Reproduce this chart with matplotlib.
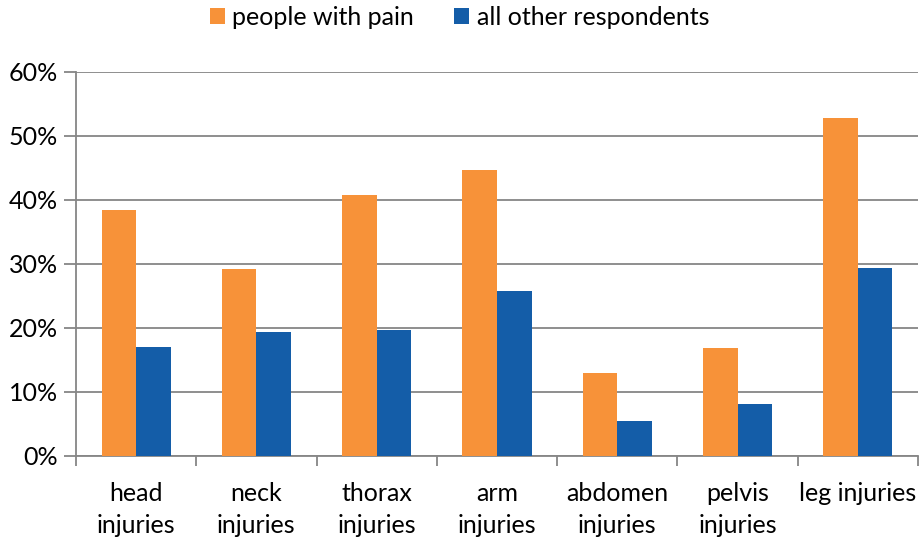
import matplotlib.pyplot as plt
import matplotlib.ticker as mticker
import numpy as np

categories = ["head\ninjuries", "neck\ninjuries", "thorax\ninjuries", "arm\ninjuries",
              "abdomen\ninjuries", "pelvis\ninjuries", "leg injuries"]
pain = [38.4, 29.2, 40.7, 44.6, 13.0, 16.8, 52.7]
others = [17.0, 19.3, 19.7, 25.8, 5.5, 8.1, 29.4]

orange = "#F79239"
blue = "#145DA8"
grey = "#868686"

plt.rcParams["font.family"] = ["Lato", "DejaVu Sans"]

fig = plt.figure(figsize=(9.19, 5.39), dpi=100)
ax = fig.add_axes([76 / 919, 1 - 455.7 / 539, (918 - 76) / 919, (455.7 - 71.7) / 539])

x = np.arange(len(categories))
w = 0.2875
ax.bar(x - w / 2, pain, w, color=orange, label="people with pain", zorder=3)
ax.bar(x + w / 2, others, w, color=blue, label="all other respondents", zorder=3)

ax.set_xlim(-0.5, len(categories) - 0.5)
ax.set_ylim(0, 60)
ax.set_yticks(range(0, 61, 10))
ax.yaxis.set_major_formatter(mticker.FuncFormatter(lambda v, p: f"{v:.0f}%"))
ax.set_xticks(np.arange(len(categories) + 1) - 0.5, minor=False)
ax.set_xticklabels([])
ax.set_xticks(x, minor=True)
ax.set_xticklabels(categories, minor=True, fontsize=18, linespacing=1.45)
ax.tick_params(axis="x", which="minor", length=0, pad=19)
ax.tick_params(axis="x", which="major", length=7, color=grey, width=1.3)
ax.tick_params(axis="y", length=9, color=grey, width=1.3, labelsize=18, pad=4)

ax.grid(axis="y", color=grey, linewidth=1.3, zorder=0)
for s in ["top", "right"]:
    ax.spines[s].set_visible(False)
for s in ["left", "bottom"]:
    ax.spines[s].set_color(grey)
    ax.spines[s].set_linewidth(1.3)

fig.legend(loc="center", bbox_to_anchor=(0.5, 1 - 17.5 / 539), ncol=2, frameon=False,
           fontsize=18, handlelength=0.6, handleheight=0.6, handletextpad=0.3,
           columnspacing=1.6, borderpad=0)

fig.savefig("out.png", dpi=100)
